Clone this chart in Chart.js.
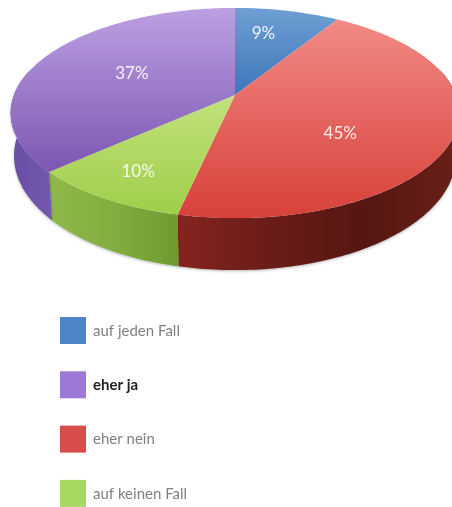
<!DOCTYPE html>
<html>
<head>
<meta charset="utf-8">
<title>Umfrage</title>
<script src="https://cdn.jsdelivr.net/npm/chart.js@4"></script>
<style>
  html, body { margin: 0; padding: 0; background: #fff; }
  canvas { display: block; }
</style>
</head>
<body>
<canvas id="chart" width="452" height="507"></canvas>
<script>
// slices run clockwise from 12 o'clock
const categories = ['auf jeden Fall', 'eher nein', 'auf keinen Fall', 'eher ja']
const percentages = [9, 45, 10, 37]
const legendOrder = [0, 3, 1, 2]

const topColors = [
  ['#6f9fd3', '#3e76ba'],
  ['#f28a84', '#d8403a'],
  ['#c2e27e', '#9fce48'],
  ['#bca0e2', '#7c56b2'],
]
const wallColors = [
  ['#2f5a90', '#2f5a90'],
  ['#85241f', '#6a1c18', '#561612', '#6a2019'],
  ['#8fb94a', '#82ad3f', '#6f9a30'],
  ['#6a4ea6', '#7458b0'],
]
const legendColors = ['#4f85c6', '#d94c4c', '#a8d85f', '#9d78d4']

// where each label sits: fraction along the slice, fraction of the radius
const labelAlong = [0.375, 0.6, 0.5, 0.5]
const labelRadius = [0.69, 0.57, 0.77, 0.53]

// tilted disc: circle coordinates to screen, far side foreshortened
const apexX = 235
const apexY = 95
const radiusX = 221
const radiusY = 102
const tilt = 0.1714

function project(angle, r) {
  const c = Math.cos(angle) * r
  const s = Math.sin(angle) * r
  const w = 1 - tilt * s
  return { x: apexX + (radiusX * c) / w, y: apexY + (radiusY * s) / w }
}

// lower rim of the disc, pulled in a little and deeper towards the viewer
function projectBase(angle) {
  const p = project(angle, 1)
  const depth = 41 + 11 * Math.max(Math.sin(angle), -0.6)
  return { x: apexX + (p.x - apexX) * 0.985, y: p.y + depth }
}

function rimAngles(start, end) {
  const list = []
  const step = Math.PI / 180
  for (let a = start; a < end; a += step) list.push(a)
  list.push(end)
  return list
}

function drawWall(ctx, arc, i) {
  // only the part facing the viewer shows
  const from = Math.max(arc.startAngle, -0.25)
  const to = Math.min(arc.endAngle, Math.PI + 0.25)
  if (to <= from) return
  const angles = rimAngles(from, to)
  const xs = angles.map((a) => project(a, 1).x)
  const grad = ctx.createLinearGradient(Math.min(...xs), 0, Math.max(...xs), 0)
  wallColors[i].forEach((c, k, all) => grad.addColorStop(k / (all.length - 1), c))
  ctx.beginPath()
  angles.forEach((a, k) => {
    const p = project(a, 1)
    if (k === 0) ctx.moveTo(p.x, p.y)
    else ctx.lineTo(p.x, p.y)
  })
  angles.slice().reverse().forEach((a) => {
    const p = projectBase(a)
    ctx.lineTo(p.x, p.y)
  })
  ctx.closePath()
  ctx.fillStyle = grad
  ctx.shadowColor = 'rgba(0,0,0,0.3)'
  ctx.shadowBlur = 3
  ctx.shadowOffsetY = 1
  ctx.fill()
  ctx.shadowColor = 'transparent'
}

function drawTop(ctx, arc, i) {
  const angles = rimAngles(arc.startAngle, arc.endAngle)
  const ys = angles.map((a) => project(a, 1).y).concat(apexY)
  const grad = ctx.createLinearGradient(0, Math.min(...ys), 0, Math.max(...ys))
  grad.addColorStop(0, topColors[i][0])
  grad.addColorStop(1, topColors[i][1])
  ctx.beginPath()
  ctx.moveTo(apexX, apexY)
  angles.forEach((a) => {
    const p = project(a, 1)
    ctx.lineTo(p.x, p.y)
  })
  ctx.closePath()
  ctx.fillStyle = grad
  ctx.fill()
}

const discPlugin = {
  id: 'disc',
  beforeDatasetDraw(chart) {
    const ctx = chart.ctx
    const arcs = chart.getDatasetMeta(0).data
    ctx.save()
    arcs.forEach((arc, i) => drawWall(ctx, arc, i))
    arcs.forEach((arc, i) => drawTop(ctx, arc, i))

    ctx.fillStyle = 'rgba(255,255,255,0.88)'
    ctx.font = '17px Lato'
    ctx.textAlign = 'center'
    ctx.textBaseline = 'middle'
    arcs.forEach((arc, i) => {
      const a = arc.startAngle + (arc.endAngle - arc.startAngle) * labelAlong[i]
      const p = project(a, labelRadius[i])
      ctx.fillText(percentages[i] + '%', p.x, p.y)
    })
    ctx.restore()
    return false
  },
}

const keyPlugin = {
  id: 'key',
  afterDraw(chart) {
    const ctx = chart.ctx
    ctx.save()
    ctx.textBaseline = 'middle'
    legendOrder.forEach((idx, row) => {
      const top = 317 + row * 54.3
      ctx.fillStyle = legendColors[idx]
      ctx.fillRect(60, top, 26, 27)
      const strong = categories[idx] === 'eher ja'
      ctx.font = (strong ? 'bold ' : '') + '15px Lato'
      ctx.fillStyle = strong ? '#222' : '#808080'
      ctx.fillText(categories[idx], 93, top + 14)
    })
    ctx.restore()
  },
}

new Chart(document.getElementById('chart').getContext('2d'), {
  type: 'pie',
  data: {
    labels: categories,
    datasets: [{ data: percentages, backgroundColor: legendColors }],
  },
  options: {
    responsive: false,
    animation: false,
    plugins: {
      legend: { display: false },
      tooltip: { enabled: false },
    },
  },
  plugins: [discPlugin, keyPlugin],
})
</script>
</body>
</html>
